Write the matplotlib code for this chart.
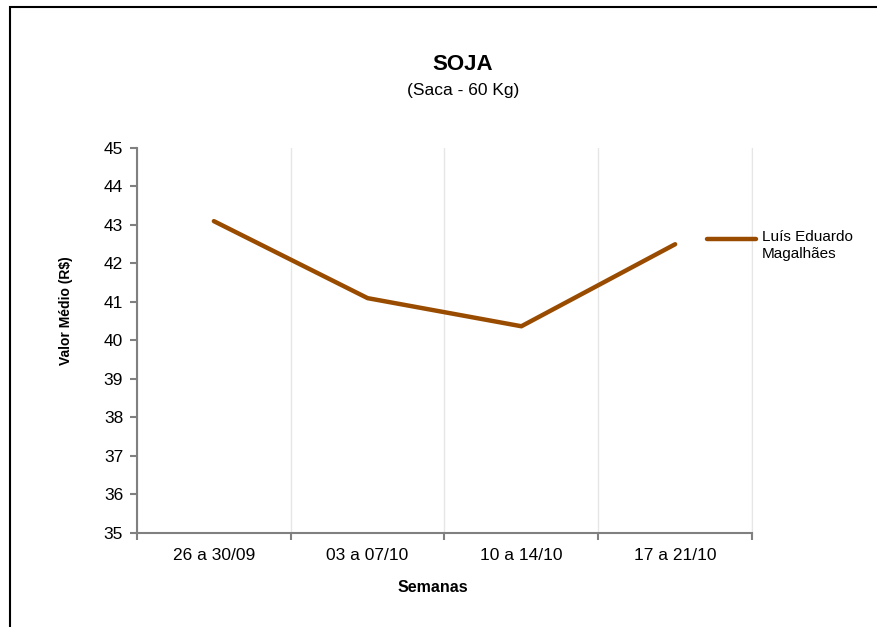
import matplotlib
matplotlib.use("Agg")
import matplotlib.pyplot as plt
from matplotlib.patches import Rectangle
from matplotlib.lines import Line2D

categories = ["26 a 30/09", "03 a 07/10", "10 a 14/10", "17 a 21/10"]
values = [43.1, 41.1, 40.37, 42.5]
series_name = "Luís Eduardo\nMagalhães"
title = "SOJA"
subtitle = "(Saca - 60 Kg)"
ylabel = "Valor Médio (R$)"
xlabel = "Semanas"

plt.rcParams['font.family'] = ['Liberation Sans', 'DejaVu Sans']
line_color = '#994C00'

fig = plt.figure(figsize=(8.78, 6.27), dpi=100)
fig.patches.append(Rectangle((10/878, -0.1), 1.2, (627-7)/627 + 0.1, transform=fig.transFigure,
                             fill=False, edgecolor='black', linewidth=1.5))

ax = fig.add_axes([137/878, (627-533)/627, 615/878, 385/627])
x = list(range(len(categories)))
line, = ax.plot(x, values, color=line_color, linewidth=3.2, solid_capstyle='round', zorder=3)

ax.set_xlim(-0.5, len(categories) - 0.5)
ax.set_ylim(35, 45)
ax.set_yticks(range(35, 46))
ax.set_xticks(x)
ax.set_xticklabels(categories)
ax.set_xticks([i + 0.5 for i in range(-1, len(categories))], minor=True)
ax.tick_params(axis='x', which='major', length=0, pad=11, labelsize=12.5)
ax.tick_params(axis='x', which='minor', length=5, color='#808080', width=1.5)
ax.tick_params(axis='y', length=5, color='#808080', width=1.5, labelsize=12.5, pad=5)
ax.grid(True, axis='x', which='minor', color='#e6e6e6', linewidth=1)
ax.spines['top'].set_visible(False)
ax.spines['right'].set_color('#e6e6e6')
ax.spines['left'].set_color('#808080')
ax.spines['bottom'].set_color('#808080')
ax.spines['left'].set_linewidth(1.5)
ax.spines['bottom'].set_linewidth(1.5)

fig.text(463/878, 1 - 64/627, title, ha='center', va='center', fontsize=16, fontweight='bold')
fig.text(463/878, 1 - 90/627, subtitle, ha='center', va='center', fontsize=12.5)
fig.text(66/878, 1 - 311/627, ylabel, ha='center', va='center', rotation=90, fontsize=10,
         fontweight='bold')
fig.text(433/878, 1 - 587/627, xlabel, ha='center', va='center', fontsize=11.5,
         fontweight='bold')

# legend
fig.add_artist(Line2D([707/878, 756/878], [1 - 239/627, 1 - 239/627], transform=fig.transFigure,
                      color=line_color, linewidth=3.2, solid_capstyle='round'))
fig.text(762/878, 1 - 230/627, series_name, ha='left', va='top', fontsize=11, linespacing=1.25)

fig.savefig("out.png", dpi=100)
